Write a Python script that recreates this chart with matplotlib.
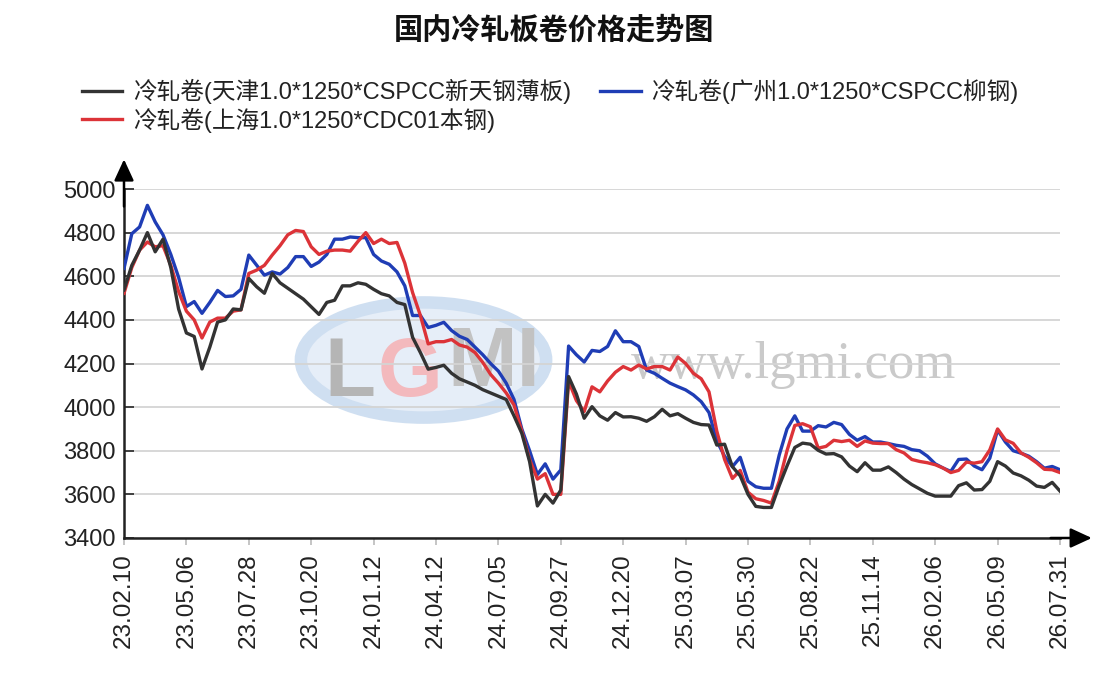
import matplotlib
matplotlib.use("Agg")
import matplotlib.pyplot as plt
from matplotlib.patches import Ellipse
import numpy as np

plt.rcParams['font.family'] = ['Liberation Sans', 'Noto Sans CJK SC', 'DejaVu Sans']

title = "国内冷轧板卷价格走势图"
name_tj = "冷轧卷(天津1.0*1250*CSPCC新天钢薄板)"
name_gz = "冷轧卷(广州1.0*1250*CSPCC柳钢)"
name_sh = "冷轧卷(上海1.0*1250*CDC01本钢)"

tick_labels = ["23.02.10", "23.05.06", "23.07.28", "23.10.20", "24.01.12", "24.04.12",
               "24.07.05", "24.09.27", "24.12.20", "25.03.07", "25.05.30", "25.08.22",
               "25.11.14", "26.02.06", "26.05.09", "26.07.31"]
tick_step = 8  # points between labelled dates

# Tianjin (black)
tianjin = [4537, 4650, 4720, 4800, 4712, 4770, 4640, 4450, 4340, 4324,
           4175, 4275, 4390, 4400, 4450, 4446, 4590, 4552, 4522, 4613,
           4570, 4545, 4520, 4495, 4460, 4425, 4480, 4490, 4556, 4556,
           4570, 4563, 4540, 4520, 4510, 4480, 4470, 4320, 4250, 4174,
           4182, 4192, 4155, 4130, 4115, 4100, 4080, 4065, 4050, 4035,
           3960, 3880, 3750, 3547, 3600, 3560, 3620, 4140, 4060, 3949,
           4002, 3960, 3940, 3975, 3955, 3956, 3949, 3935, 3956, 3990,
           3960, 3970, 3949, 3930, 3920, 3918, 3826, 3830, 3727, 3685,
           3600, 3545, 3540, 3540, 3640, 3730, 3815, 3835, 3830, 3802,
           3785, 3787, 3772, 3730, 3704, 3745, 3711, 3711, 3726, 3700,
           3670, 3645, 3625, 3605, 3592, 3592, 3592, 3640, 3653, 3620,
           3622, 3660, 3750, 3730, 3698, 3685, 3665, 3638, 3632, 3655,
           3615]

# Shanghai (red)
shanghai = [4522, 4640, 4720, 4757, 4735, 4740, 4650, 4530, 4440, 4400,
            4317, 4390, 4408, 4408, 4440, 4446, 4613, 4628, 4650, 4697,
            4740, 4790, 4810, 4805, 4735, 4700, 4715, 4720, 4720, 4715,
            4760, 4800, 4750, 4770, 4750, 4755, 4660, 4525, 4420, 4290,
            4300, 4300, 4310, 4285, 4275, 4250, 4205, 4150, 4110, 4065,
            4010, 3890, 3760, 3670, 3695, 3600, 3600, 4120, 4030, 3980,
            4093, 4070, 4120, 4160, 4186, 4170, 4193, 4175, 4186, 4186,
            4170, 4230, 4200, 4155, 4130, 4070, 3890, 3760, 3673, 3710,
            3610, 3580, 3572, 3560, 3660, 3800, 3916, 3924, 3910, 3812,
            3820, 3848, 3842, 3848, 3820, 3845, 3835, 3833, 3833, 3805,
            3790, 3760, 3751, 3745, 3736, 3721, 3700, 3710, 3748, 3743,
            3750, 3804, 3900, 3850, 3834, 3790, 3770, 3745, 3715, 3713,
            3700]

# Guangzhou (blue)
guangzhou = [4636, 4795, 4826, 4925, 4849, 4790, 4700, 4595, 4461, 4484,
             4430, 4480, 4535, 4507, 4510, 4540, 4697, 4651, 4605, 4620,
             4610, 4640, 4690, 4690, 4645, 4665, 4700, 4770, 4770, 4780,
             4777, 4777, 4700, 4670, 4655, 4620, 4556, 4420, 4420, 4365,
             4375, 4389, 4351, 4325, 4310, 4275, 4240, 4200, 4165, 4110,
             4035, 3900, 3800, 3691, 3740, 3670, 3712, 4280, 4240, 4207,
             4260, 4255, 4278, 4350, 4300, 4300, 4278, 4170, 4155, 4132,
             4110, 4094, 4079, 4056, 4025, 3975, 3845, 3775, 3727, 3770,
             3660, 3635, 3628, 3628, 3780, 3900, 3960, 3890, 3890, 3915,
             3909, 3930, 3920, 3875, 3848, 3865, 3840, 3840, 3833, 3825,
             3820, 3805, 3800, 3775, 3740, 3721, 3705, 3760, 3762, 3730,
             3713, 3766, 3895, 3840, 3800, 3789, 3775, 3750, 3720, 3728,
             3713]

W, H = 1106, 698
fig = plt.figure(figsize=(W / 100, H / 100), dpi=100)
ax = fig.add_axes([124 / W, 1 - 538 / H, 936 / W, 349 / H])

x = np.arange(len(tianjin))

# watermark
ax.add_patch(Ellipse((0.32, 0.51), 0.262, 0.33, transform=ax.transAxes,
                     facecolor='#e6eef8', edgecolor='#cfdff1', lw=9, zorder=0))
ax.text(0.241, 0.47, "L", transform=ax.transAxes, fontsize=60, color='#b5b5b5',
        fontweight='bold', ha='center', va='center', zorder=0.5)
ax.text(0.306, 0.47, "G", transform=ax.transAxes, fontsize=60, color='#f3b9bd',
        fontweight='bold', ha='center', va='center', zorder=0.5)
ax.text(0.395, 0.50, "MI", transform=ax.transAxes, fontsize=60, color='#c2c2c2',
        fontweight='bold', ha='center', va='center', zorder=0.5)
ax.text(0.715, 0.495, "www.lgmi.com", transform=ax.transAxes, fontsize=38,
        family='Liberation Serif', color='#cacaca', ha='center', va='center', zorder=0.5)

ax.plot(x, guangzhou, color='#1f3db5', lw=2.4, label=name_gz, zorder=3)
ax.plot(x, shanghai, color='#dc3338', lw=2.4, label=name_sh, zorder=4)
ax.plot(x, tianjin, color='#333333', lw=2.4, label=name_tj, zorder=5)

ax.set_xlim(0, len(tianjin) - 1)
ax.set_ylim(3400, 5000)
ax.set_yticks(np.arange(3400, 5001, 200))
ax.set_xticks(np.arange(0, len(tianjin), tick_step))
ax.set_xticklabels(tick_labels, rotation=90)
ax.grid(axis='y', color='#d4d4d4', lw=1.3, zorder=1)
ax.set_axisbelow(True)

for s in ['top', 'right']:
    ax.spines[s].set_visible(False)
for s in ['left', 'bottom']:
    ax.spines[s].set_color('#222222')
    ax.spines[s].set_linewidth(1.8)
ax.tick_params(axis='y', direction='in', length=7, width=1.3, color='#333333',
               labelsize=17, pad=6, labelcolor='#222222')
ax.tick_params(axis='x', direction='out', length=5, width=1.2, color='#bbbbbb',
               labelsize=17.5, pad=6, labelcolor='#222222')

# axis arrows
arrow = dict(arrowstyle='-|>,head_length=1.3,head_width=0.6', color='black',
             lw=1.8, mutation_scale=10, shrinkA=0, shrinkB=0)
ax.annotate('', xy=(0, 1.085), xytext=(0, 0.95), xycoords='axes fraction',
            arrowprops=arrow, annotation_clip=False)
ax.annotate('', xy=(1.034, 0), xytext=(0.99, 0), xycoords='axes fraction',
            arrowprops=arrow, annotation_clip=False)

fig.text(554 / W, 1 - 30 / H, title, ha='center', va='center', fontsize=21,
         fontweight='bold', color='#111111')

handles, labels = ax.get_legend_handles_labels()
order = [2, 1, 0]
fig.legend([handles[i] for i in order], [labels[i] for i in order],
           loc='upper left', bbox_to_anchor=(82 / W, 1 - 79 / H), ncol=2,
           frameon=False, fontsize=17, handlelength=1.7, handletextpad=0.45,
           columnspacing=1.25, labelspacing=0.15, borderpad=0, borderaxespad=0,
           labelcolor='#222222')

fig.savefig("out.png", dpi=100)
